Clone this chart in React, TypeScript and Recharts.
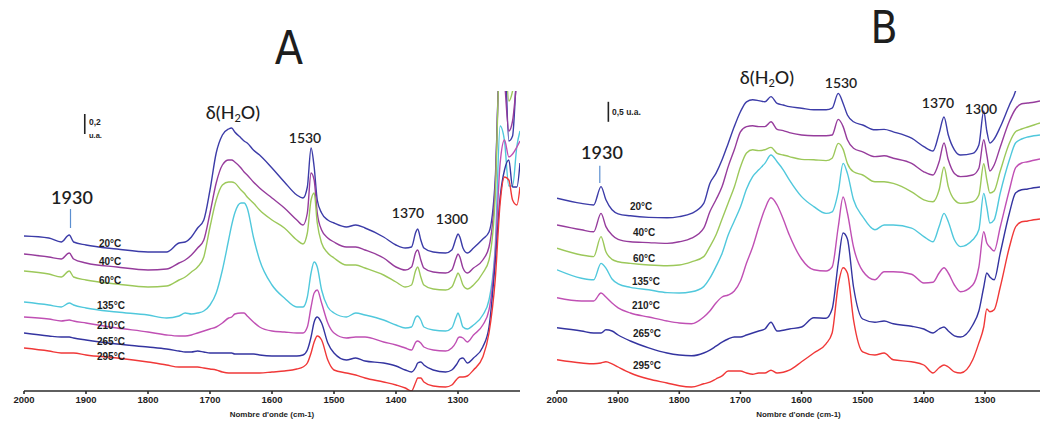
import React from 'react';
import { LineChart, Line, XAxis, YAxis, ReferenceLine, Label } from 'recharts';

// Panneau A : nombres d'onde (cm-1) et absorbance décalée (u.a.)
const A_WN = [
  2000, 1960, 1940, 1927, 1920, 1900, 1850, 1800, 1770, 1750,
  1740, 1730, 1720, 1710, 1700, 1690, 1680, 1670, 1665, 1660,
  1650, 1645, 1640, 1630, 1620, 1600, 1580, 1560, 1550, 1543,
  1537, 1532, 1527, 1520, 1510, 1500, 1480, 1465, 1450, 1420,
  1400, 1385, 1375, 1368, 1365, 1360, 1355, 1340, 1320, 1310,
  1303, 1300, 1297, 1292, 1285, 1275, 1260, 1250, 1240, 1232,
  1225, 1218, 1212, 1205, 1200,
];
const A_20 = [
  1.55, 1.53, 1.49, 1.56, 1.49, 1.46, 1.42, 1.39, 1.39, 1.48,
  1.49, 1.54, 1.63, 1.71, 2.01, 2.38, 2.56, 2.62, 2.63, 2.59,
  2.53, 2.5, 2.48, 2.41, 2.36, 2.23, 2.09, 1.96, 1.93, 2.04,
  2.43, 2.24, 1.91, 1.78, 1.71, 1.68, 1.64, 1.66, 1.63, 1.54,
  1.46, 1.43, 1.44, 1.59, 1.62, 1.51, 1.43, 1.39, 1.38, 1.41,
  1.53, 1.57, 1.54, 1.43, 1.38, 1.43, 1.52, 1.59, 2.11, 3.4,
  3.4, 2.5, 2.55, 3.2, 3.4,
];
const A_40 = [
  1.37, 1.34, 1.32, 1.38, 1.32, 1.28, 1.24, 1.21, 1.22, 1.28,
  1.31, 1.36, 1.43, 1.51, 1.78, 2.08, 2.26, 2.31, 2.31, 2.29,
  2.23, 2.19, 2.16, 2.09, 2.03, 1.93, 1.83, 1.71, 1.66, 1.78,
  2.18, 2.11, 1.78, 1.61, 1.53, 1.49, 1.44, 1.44, 1.41, 1.33,
  1.24, 1.21, 1.24, 1.39, 1.41, 1.31, 1.23, 1.19, 1.18, 1.21,
  1.33, 1.37, 1.34, 1.23, 1.18, 1.23, 1.31, 1.44, 2.04, 3.4,
  3.1, 2.6, 2.7, 3.1, 3.3,
];
const A_60 = [
  1.2, 1.17, 1.14, 1.2, 1.14, 1.11, 1.07, 1.04, 1.05, 1.11,
  1.14, 1.19, 1.24, 1.34, 1.64, 1.91, 2.06, 2.09, 2.09, 2.08,
  2.01, 1.98, 1.94, 1.88, 1.81, 1.71, 1.63, 1.51, 1.47, 1.58,
  1.91, 1.98, 1.68, 1.48, 1.38, 1.33, 1.26, 1.26, 1.23, 1.16,
  1.09, 1.04, 1.06, 1.21, 1.24, 1.14, 1.06, 1.02, 1.01, 1.04,
  1.14, 1.18, 1.15, 1.06, 1.02, 1.06, 1.18, 1.31, 1.94, 3.4,
  3.4, 2.9, 3.0, 3.3, 3.4,
];
const A_135 = [
  0.89, 0.86, 0.84, 0.88, 0.86, 0.83, 0.79, 0.76, 0.73, 0.75,
  0.78, 0.77, 0.78, 0.8, 0.86, 0.98, 1.21, 1.51, 1.66, 1.78,
  1.88, 1.88, 1.83, 1.54, 1.31, 1.06, 0.93, 0.84, 0.84, 0.94,
  1.18, 1.29, 1.24, 1.01, 0.84, 0.78, 0.74, 0.78, 0.76, 0.71,
  0.66, 0.63, 0.64, 0.74, 0.75, 0.71, 0.64, 0.61, 0.6, 0.63,
  0.74, 0.78, 0.74, 0.64, 0.62, 0.66, 0.76, 0.91, 1.44, 2.65,
  2.5, 2.05, 2.05, 2.45, 2.6,
];
const A_210 = [
  0.74, 0.72, 0.7, 0.71, 0.7, 0.68, 0.63, 0.59, 0.56, 0.55,
  0.55, 0.56, 0.58, 0.6, 0.62, 0.64, 0.68, 0.73, 0.74, 0.77,
  0.78, 0.78, 0.75, 0.69, 0.64, 0.6, 0.59, 0.58, 0.58, 0.64,
  0.84, 0.98, 1.01, 0.88, 0.68, 0.58, 0.53, 0.54, 0.54, 0.49,
  0.46, 0.43, 0.41, 0.49, 0.5, 0.48, 0.44, 0.41, 0.4, 0.43,
  0.49, 0.53, 0.54, 0.53, 0.49, 0.56, 0.66, 0.81, 1.38, 2.28,
  2.51, 2.34, 2.37, 2.44, 2.5,
];
const A_265 = [
  0.58, 0.55, 0.54, 0.54, 0.53, 0.51, 0.47, 0.44, 0.42, 0.4,
  0.39, 0.39, 0.4, 0.39, 0.38, 0.38, 0.38, 0.38, 0.38, 0.37,
  0.37, 0.37, 0.37, 0.37, 0.36, 0.35, 0.35, 0.35, 0.36, 0.41,
  0.54, 0.69, 0.74, 0.68, 0.48, 0.38, 0.31, 0.33, 0.3, 0.28,
  0.25, 0.21, 0.19, 0.24, 0.28, 0.29, 0.26, 0.21, 0.19, 0.21,
  0.26, 0.29, 0.32, 0.33, 0.28, 0.33, 0.44, 0.64, 1.28, 1.94,
  2.21, 2.31, 2.04, 2.04, 2.28,
];
const A_295 = [
  0.43, 0.4, 0.38, 0.38, 0.38, 0.36, 0.33, 0.29, 0.26, 0.24,
  0.24, 0.24, 0.24, 0.23, 0.22, 0.21, 0.19, 0.18, 0.18, 0.18,
  0.18, 0.18, 0.18, 0.18, 0.18, 0.19, 0.2, 0.22, 0.24, 0.28,
  0.38, 0.49, 0.55, 0.51, 0.31, 0.21, 0.18, 0.16, 0.13, 0.09,
  0.06, 0.03, 0.0, 0.09, 0.13, 0.13, 0.09, 0.05, 0.04, 0.06,
  0.11, 0.13, 0.14, 0.14, 0.15, 0.21, 0.34, 0.58, 1.11, 1.88,
  2.14, 2.11, 1.91, 1.86, 2.04,
];

// Panneau B
const B_WN = [
  2000, 1960, 1940, 1928, 1920, 1910, 1900, 1880, 1850, 1820,
  1800, 1780, 1760, 1750, 1740, 1730, 1720, 1710, 1700, 1690,
  1680, 1670, 1660, 1650, 1640, 1630, 1620, 1600, 1580, 1560,
  1550, 1540, 1532, 1525, 1515, 1500, 1480, 1465, 1450, 1420,
  1400, 1385, 1375, 1367, 1360, 1350, 1340, 1320, 1310, 1302,
  1297, 1292, 1285, 1275, 1260, 1250, 1240, 1230, 1220, 1210,
];
const B_20 = [
  4.82, 4.69, 4.65, 5.11, 4.78, 4.53, 4.43, 4.38, 4.34, 4.33,
  4.36, 4.44, 4.69, 5.19, 5.44, 5.78, 6.19, 6.61, 6.98, 7.23,
  7.28, 7.26, 7.23, 7.36, 7.19, 7.15, 7.11, 7.07, 7.03, 7.03,
  7.07, 7.44, 7.19, 6.9, 6.73, 6.65, 6.53, 6.54, 6.48, 6.32,
  6.11, 6.0, 6.44, 6.85, 6.4, 6.03, 5.9, 5.94, 6.15, 7.0,
  6.5, 6.2, 6.3, 6.6, 7.15, 7.5, 8.2, 8.5, 8.5, 8.5,
];
const B_40 = [
  4.15, 4.03, 3.98, 4.44, 4.11, 3.9, 3.79, 3.73, 3.71, 3.69,
  3.73, 3.82, 4.07, 4.48, 4.78, 5.11, 5.61, 6.03, 6.48, 6.61,
  6.63, 6.61, 6.61, 6.73, 6.54, 6.51, 6.46, 6.4, 6.38, 6.38,
  6.4, 6.79, 6.61, 6.28, 6.07, 5.98, 5.86, 5.88, 5.82, 5.69,
  5.48, 5.4, 5.73, 6.2, 5.78, 5.44, 5.36, 5.4, 5.57, 6.28,
  5.9, 5.5, 5.65, 6.1, 6.75, 7.05, 7.18, 7.2, 7.22, 7.25,
];
const B_60 = [
  3.57, 3.4, 3.36, 3.86, 3.48, 3.29, 3.23, 3.19, 3.15, 3.13,
  3.15, 3.23, 3.36, 3.61, 3.9, 4.3, 4.7, 5.1, 5.6, 5.95,
  6.03, 6.01, 6.03, 6.09, 5.94, 5.9, 5.86, 5.79, 5.78, 5.76,
  5.82, 6.19, 6.04, 5.69, 5.48, 5.4, 5.23, 5.23, 5.19, 4.98,
  4.78, 4.73, 5.03, 5.6, 5.11, 4.78, 4.69, 4.73, 4.9, 5.68,
  5.28, 4.95, 5.0, 5.5, 6.2, 6.48, 6.55, 6.6, 6.65, 6.7,
];
const B_135 = [
  3.03, 2.82, 2.78, 3.19, 3.07, 2.8, 2.68, 2.59, 2.53, 2.46,
  2.45, 2.48, 2.61, 2.82, 3.11, 3.44, 3.9, 4.25, 4.6, 5.05,
  5.36, 5.53, 5.69, 5.9, 5.73, 5.53, 5.28, 4.86, 4.61, 4.44,
  4.48, 4.98, 5.69, 5.44, 4.78, 4.36, 4.03, 4.15, 4.15, 4.07,
  3.86, 3.73, 4.11, 4.44, 4.23, 3.78, 3.61, 3.78, 4.03, 4.94,
  4.6, 4.2, 4.28, 4.95, 5.78, 6.2, 6.3, 6.35, 6.38, 6.4,
];
const B_210 = [
  2.33, 2.25, 2.25, 2.45, 2.35, 2.2, 2.08, 1.95, 1.85, 1.75,
  1.7, 1.68, 1.85, 2.0, 2.2, 2.35, 2.4, 2.5, 2.75, 3.2,
  3.6, 4.1, 4.55, 4.83, 4.65, 4.3, 3.9, 3.3, 3.03, 3.0,
  3.1, 4.1, 4.85, 4.45, 3.6, 3.0, 2.78, 2.98, 2.98, 2.92,
  2.7, 2.72, 2.95, 3.08, 2.95, 2.65, 2.48, 2.65, 3.1, 3.98,
  3.7, 3.6, 3.5, 4.1, 5.03, 5.58, 5.7, 5.73, 5.77, 5.8,
];
const B_265 = [
  1.58, 1.5, 1.45, 1.45, 1.53, 1.5, 1.4, 1.25, 1.08, 0.95,
  0.9, 0.88, 0.95, 1.02, 1.12, 1.22, 1.3, 1.35, 1.35, 1.4,
  1.45, 1.5, 1.55, 1.72, 1.5, 1.52, 1.55, 1.6, 1.83, 1.82,
  2.05, 3.2, 3.95, 3.8, 2.6, 1.8, 1.72, 1.75, 1.68, 1.62,
  1.55, 1.45, 1.55, 1.6, 1.5, 1.38, 1.35, 1.65, 2.0, 2.6,
  2.95, 2.85, 2.78, 3.45, 4.45, 4.95, 5.03, 5.05, 5.08, 5.1,
];
const B_295 = [
  0.78, 0.7, 0.68, 0.7, 0.73, 0.68, 0.6, 0.45, 0.3, 0.2,
  0.13, 0.1, 0.18, 0.22, 0.3, 0.38, 0.5, 0.5, 0.5, 0.45,
  0.42, 0.45, 0.45, 0.52, 0.45, 0.47, 0.52, 0.73, 0.95, 1.18,
  1.45, 2.65, 3.08, 2.95, 1.78, 0.98, 0.9, 0.95, 0.78, 0.73,
  0.65, 0.45, 0.58, 0.65, 0.6, 0.48, 0.45, 0.78, 1.2, 1.6,
  2.05, 1.98, 2.03, 2.6, 3.6, 4.1, 4.23, 4.25, 4.28, 4.3,
];

const X_TICKS = [2000, 1900, 1800, 1700, 1600, 1500, 1400, 1300];
const TEMPS = ['20°C', '40°C', '60°C', '135°C', '210°C', '265°C', '295°C'];
const COLORS = ['#3c3ca8', '#963c9c', '#9cc85a', '#50c8dc', '#c050b4', '#3434a0', '#f03838'];
const KEYS = ['t20', 't40', 't60', 't135', 't210', 't265', 't295'];

function buildRows(wn: number[], series: number[][]) {
  return wn.map((w, i) => {
    const row: Record<string, number> = { wn: w };
    KEYS.forEach((k, j) => { row[k] = series[j][i]; });
    return row;
  });
}

const dataA = buildRows(A_WN, [A_20, A_40, A_60, A_135, A_210, A_265, A_295]);
const dataB = buildRows(B_WN, [B_20, B_40, B_60, B_135, B_210, B_265, B_295]);

const TEXT = '#1e1e1e';
const NUM_FONT = 'Lato, "Open Sans", sans-serif';
const SMALL_FONT = '"Liberation Sans", Arial, sans-serif';
const BIG_FONT = '"Liberation Sans Narrow", "DejaVu Sans Condensed", sans-serif';

function Note({ x, y, size, weight = 700, font = NUM_FONT, left = false, children }: any) {
  return (
    <div
      style={{
        position: 'absolute', left: x, top: y,
        transform: left ? 'translate(0, -50%)' : 'translate(-50%, -50%)',
        fontSize: size, fontWeight: weight, fontFamily: font, color: TEXT,
        whiteSpace: 'nowrap', lineHeight: 1,
      }}
    >
      {children}
    </div>
  );
}

function Water({ x, y }: { x: number; y: number }) {
  return (
    <Note x={x} y={y} size={18} weight={500}>
      δ(H<sub style={{ fontSize: 11, verticalAlign: -3 }}>2</sub>O)
    </Note>
  );
}

interface PanelProps {
  data: Record<string, number>[];
  left: number;
  width: number;
  xMin: number;
  yMax: number;
  marker: { x: number; y0: number; y1: number };
  bar: { x: number; y0: number; y1: number };
}

function Panel({ data, left, width, xMin, yMax, marker, bar }: PanelProps) {
  return (
    <div style={{ position: 'absolute', left, top: 0 }}>
      <LineChart width={width} height={421} data={data} margin={{ top: 91, right: 0, left: 24, bottom: 0 }}>
        <XAxis
          dataKey="wn"
          type="number"
          domain={[xMin, 2000]}
          reversed
          allowDataOverflow
          ticks={X_TICKS}
          height={30}
          stroke="#2a2a2a"
          strokeWidth={1.6}
          tickSize={3}
          tickMargin={2}
          tick={{ fontSize: 9.5, fontWeight: 700, fill: TEXT, fontFamily: SMALL_FONT }}
        >
          <Label
            value="Nombre d'onde (cm-1)"
            position="insideBottom"
            offset={4}
            style={{ fontSize: 8, fontWeight: 700, fill: TEXT, fontFamily: SMALL_FONT }}
          />
        </XAxis>
        <YAxis hide domain={[0, yMax]} allowDataOverflow />
        <ReferenceLine
          segment={[{ x: marker.x, y: marker.y0 }, { x: marker.x, y: marker.y1 }]}
          stroke="#5b8fd0"
          strokeWidth={1.2}
        />
        <ReferenceLine
          segment={[{ x: bar.x, y: bar.y0 }, { x: bar.x, y: bar.y1 }]}
          stroke="#222"
          strokeWidth={1.6}
        />
        {KEYS.map((k, i) => (
          <Line
            key={k}
            dataKey={k}
            name={TEMPS[i]}
            type="monotone"
            stroke={COLORS[i]}
            strokeWidth={1.4}
            dot={false}
            isAnimationActive={false}
          />
        ))}
      </LineChart>
    </div>
  );
}

const TEMP_POS_A = [[99, 244], [99, 262], [99, 281], [97, 306], [97, 326], [97, 342], [97, 357]];
const TEMP_POS_B = [[630, 207], [633, 233], [633, 259], [632, 282], [632, 306], [633, 334], [633, 366]];

export default function App() {
  return (
    <div style={{ position: 'absolute', left: 0, top: 0, width: 1040, height: 421, background: '#fff', overflow: 'hidden' }}>
      <Panel
        data={dataA}
        left={0}
        width={520}
        xMin={1200}
        yMax={3}
        marker={{ x: 1925, y0: 1.63, y1: 1.82 }}
        bar={{ x: 1902, y0: 2.57, y1: 2.77 }}
      />
      <Panel
        data={dataB}
        left={533}
        width={507}
        xMin={1210}
        yMax={7.5}
        marker={{ x: 1930, y0: 5.2, y1: 5.63 }}
        bar={{ x: 1916, y0: 6.73, y1: 7.23 }}
      />

      <Note x={289} y={48} size={46} weight={400} font={BIG_FONT}>A</Note>
      <Note x={884} y={28} size={44} weight={400} font={BIG_FONT}>B</Note>

      <Water x={233} y={113} />
      <Note x={72} y={197} size={18} weight={600}>1930</Note>
      <Note x={305} y={138} size={14} weight={600}>1530</Note>
      <Note x={408} y={213} size={14} weight={600}>1370</Note>
      <Note x={452} y={219} size={14} weight={600}>1300</Note>
      <Note x={89} y={122} size={8.5} font={SMALL_FONT} left>0,2</Note>
      <Note x={89} y={136} size={7.5} font={SMALL_FONT} left>u.a.</Note>

      <Water x={767} y={78} />
      <Note x={602} y={152} size={18} weight={600}>1930</Note>
      <Note x={841} y={83} size={14} weight={600}>1530</Note>
      <Note x={938} y={103} size={14} weight={600}>1370</Note>
      <Note x={981} y={109} size={14} weight={600}>1300</Note>
      <Note x={612} y={112} size={8.5} font={SMALL_FONT} left>0,5 u.a.</Note>

      {TEMPS.map((t, i) => (
        <Note key={'a' + t} x={TEMP_POS_A[i][0]} y={TEMP_POS_A[i][1]} size={10} font={SMALL_FONT} left>{t}</Note>
      ))}
      {TEMPS.map((t, i) => (
        <Note key={'b' + t} x={TEMP_POS_B[i][0]} y={TEMP_POS_B[i][1]} size={10} font={SMALL_FONT} left>{t}</Note>
      ))}
    </div>
  );
}
